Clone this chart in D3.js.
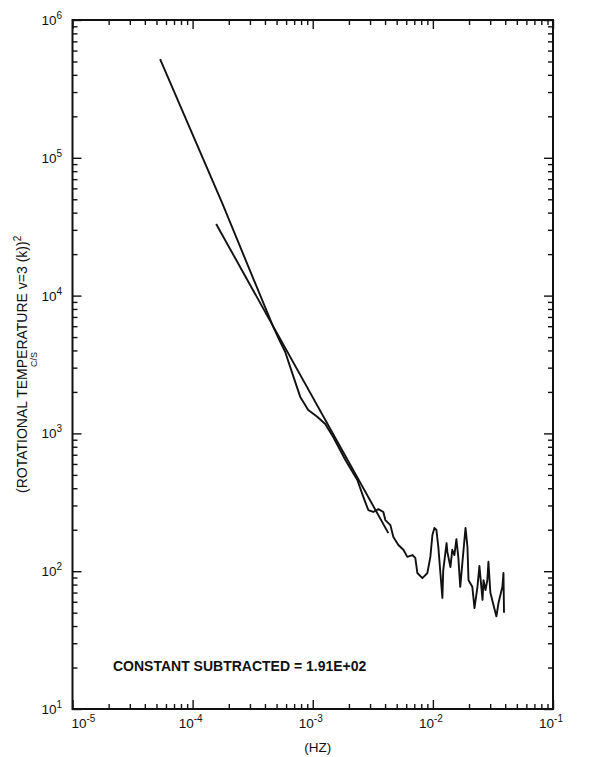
<!DOCTYPE html>
<html>
<head>
<meta charset="utf-8">
<script src="https://cdn.jsdelivr.net/npm/d3@7"></script>
<style>
  body { margin: 0; background: #fff; }
  text { font-family: "Liberation Sans", Arial, Helvetica, sans-serif; fill: #111; }
</style>
</head>
<body>
<svg id="chart" width="609" height="757"></svg>
<script>
// Spectrum of the rotational temperature (C/S), frequency in Hz
const freq = [
  5.36e-5, 1.76e-4, 4.69e-4, 5.36e-4, 5.90e-4, 6.75e-4, 7.87e-4, 9.17e-4,
  1.09e-3, 1.27e-3, 1.48e-3, 1.87e-3, 2.35e-3, 2.64e-3, 2.90e-3, 3.19e-3,
  3.52e-3, 3.87e-3, 4.02e-3, 4.43e-3, 4.69e-3, 5.16e-3, 5.68e-3, 6.13e-3,
  6.75e-3, 7.14e-3, 7.43e-3, 8.18e-3, 9.00e-3, 9.53e-3, 9.91e-3, 1.03e-2,
  1.07e-2, 1.11e-2, 1.155e-2, 1.20e-2, 1.22e-2, 1.30e-2, 1.32e-2, 1.40e-2,
  1.45e-2, 1.51e-2, 1.57e-2, 1.63e-2, 1.69e-2, 1.79e-2, 1.87e-2, 1.94e-2,
  1.98e-2, 2.13e-2, 2.22e-2, 2.35e-2, 2.44e-2, 2.59e-2, 2.64e-2, 2.74e-2,
  2.84e-2, 2.90e-2, 3.01e-2, 3.19e-2, 3.38e-2, 3.52e-2, 3.79e-2, 3.87e-2,
  3.91e-2
];
const power = [
  5.21e5, 4.70e4, 5.92e3, 4.61e3, 3.90e3, 2.74e3, 1.84e3, 1.48e3,
  1.32e3, 1.17e3, 942, 641, 459, 345, 278, 269,
  282, 269, 235, 216, 177, 155, 143, 127,
  131, 125, 97, 89, 97, 127, 183, 206,
  199, 150, 97, 64, 102, 160, 138, 107,
  143, 131, 171, 125, 77, 136, 206, 150,
  86, 77, 54, 77, 109, 62, 86, 73,
  86, 117, 70, 57, 47, 59, 77, 97,
  50
];

// Fitted power-law line (two end points)
const fitFreq = [1.57e-4, 4.26e-3];
const fitPower = [3.31e4, 189];

// Axis decades (exponents of ten)
const xExponents = [-5, -4, -3, -2, -1];
const yExponents = [1, 2, 3, 4, 5, 6];

const xTitle = "(HZ)";
const yTitleMain = "(ROTATIONAL TEMPERATURE v=3 (k))";
const yTitleSup = "2";
const yTitleSub = "C/S";
const note = "CONSTANT SUBTRACTED = 1.91E+02";

const svg = d3.select("#chart");
const margin = { left: 72.5, right: 553, top: 20, bottom: 709 };

const x = d3.scaleLog().domain([1e-5, 1e-1]).range([margin.left, margin.right]);
const y = d3.scaleLog().domain([1e1, 1e6]).range([margin.bottom, margin.top]);

// Major and minor tick values
const minorOf = exps => {
  const out = [];
  for (let i = 0; i < exps.length - 1; i++)
    for (let k = 2; k <= 9; k++) out.push(k * Math.pow(10, exps[i]));
  return out;
};
const xMajor = xExponents.map(e => Math.pow(10, e));
const yMajor = yExponents.map(e => Math.pow(10, e));
const xMinor = minorOf(xExponents);
const yMinor = minorOf(yExponents);

const majorLen = 9, minorLen = 5;

function inwardAxis(axisFn, scale, values, len, transform) {
  const g = svg.append("g").attr("transform", transform)
    .call(axisFn(scale).tickValues(values).tickSize(len).tickSizeOuter(0).tickFormat(""));
  g.select(".domain").remove();
  g.selectAll(".tick line").attr("stroke", "#111").attr("stroke-width", 1.4);
  return g;
}

// Ticks on all four sides, pointing into the plot
inwardAxis(d3.axisTop, x, xMajor, majorLen, `translate(0,${margin.bottom})`);
inwardAxis(d3.axisTop, x, xMinor, minorLen, `translate(0,${margin.bottom})`);
inwardAxis(d3.axisBottom, x, xMajor, majorLen, `translate(0,${margin.top})`);
inwardAxis(d3.axisBottom, x, xMinor, minorLen, `translate(0,${margin.top})`);
inwardAxis(d3.axisRight, y, yMajor, majorLen, `translate(${margin.left},0)`);
inwardAxis(d3.axisRight, y, yMinor, minorLen, `translate(${margin.left},0)`);
inwardAxis(d3.axisLeft, y, yMajor, majorLen, `translate(${margin.right},0)`);
inwardAxis(d3.axisLeft, y, yMinor, minorLen, `translate(${margin.right},0)`);

// Frame
svg.append("rect")
  .attr("x", margin.left).attr("y", margin.top)
  .attr("width", margin.right - margin.left).attr("height", margin.bottom - margin.top)
  .attr("fill", "none").attr("stroke", "#111").attr("stroke-width", 2);

// Power-of-ten tick labels
function powerLabel(sel, exp) {
  sel.append("tspan").text("10");
  sel.append("tspan").attr("dy", -6).attr("font-size", 10).text(exp);
}

svg.append("g").selectAll("text").data(xExponents).join("text")
  .attr("x", (d, i) => i === 0 ? x(Math.pow(10, d)) - 1 : x(Math.pow(10, d)) - 2)
  .attr("y", 728)
  .attr("font-size", 13.5)
  .attr("text-anchor", (d, i) => i === 0 ? "start" : "middle")
  .each(function (d) { powerLabel(d3.select(this), d < 0 ? "-" + (-d) : d); });

svg.append("g").selectAll("text").data(yExponents).join("text")
  .attr("x", 62)
  .attr("y", d => y(Math.pow(10, d)) + 5)
  .attr("font-size", 13.5)
  .attr("text-anchor", "end")
  .each(function (d) { powerLabel(d3.select(this), d); });

// Axis titles
svg.append("text")
  .attr("x", (margin.left + margin.right) / 2 + 5).attr("y", 752)
  .attr("font-size", 13.5).attr("text-anchor", "middle")
  .text(xTitle);

const yt = svg.append("text")
  .attr("transform", "translate(27,493) rotate(-90)")
  .attr("font-size", 14).attr("text-anchor", "start");
yt.append("tspan").text(yTitleMain);
yt.append("tspan").attr("dy", -6).attr("font-size", 10).text(yTitleSup);

svg.append("text")
  .attr("transform", "translate(37,367) rotate(-90)")
  .attr("font-size", 9).attr("text-anchor", "start")
  .text(yTitleSub);

// Annotation
svg.append("text")
  .attr("x", 113).attr("y", 671)
  .attr("font-size", 14).attr("font-weight", "bold")
  .text(note);

// Spectrum curve and fitted line
const line = d3.line().x(d => x(d[0])).y(d => y(d[1]));

svg.append("path")
  .datum(d3.zip(freq, power))
  .attr("d", line)
  .attr("fill", "none").attr("stroke", "#111")
  .attr("stroke-width", 1.9).attr("stroke-linejoin", "round");

svg.append("path")
  .datum(d3.zip(fitFreq, fitPower))
  .attr("d", line)
  .attr("fill", "none").attr("stroke", "#111")
  .attr("stroke-width", 1.9);
</script>
</body>
</html>
